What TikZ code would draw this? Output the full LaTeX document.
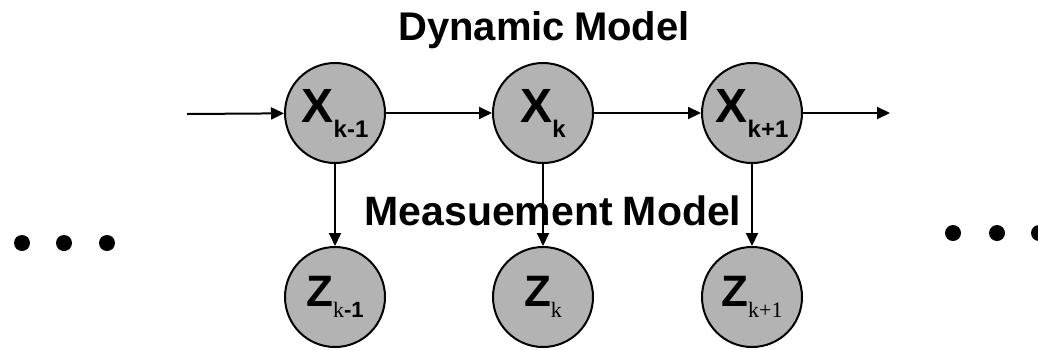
\documentclass[tikz,border=0pt]{standalone}
\usepackage{fontspec}
\setmainfont{Liberation Sans}
\newfontfamily\serifk{Liberation Serif}
\usetikzlibrary{arrows.meta}
\definecolor{gfill}{HTML}{B3B3B3}
\newcommand\Xlab[1]{{\fontsize{48}{48}\selectfont\bfseries X}\raisebox{-15pt}{\fontsize{24}{24}\selectfont\bfseries #1}}
\newcommand\Zlab[1]{{\fontsize{44}{44}\selectfont\bfseries Z}\raisebox{-11pt}{\fontsize{22}{22}\selectfont #1}}
\begin{document}
\begin{tikzpicture}[x=1pt,y=-1pt,
  state/.style={circle,draw,line width=2pt,fill=gfill,minimum size=100pt,inner sep=0pt},
  conn/.style={line width=2pt,-{Triangle[length=13pt,width=12pt]}},
  dotnode/.style={circle,fill=black,minimum size=16pt,inner sep=0pt},
  title/.style={anchor=base,font=\fontsize{40}{40}\selectfont\bfseries}]
\useasboundingbox (0,0) rectangle (1038,349);
% top row
\node[state] (x1) at (335,113) {\Xlab{k-1}};
\node[state] (x2) at (543,113) {\Xlab{k}};
\node[state] (x3) at (752,113) {\Xlab{k+1}};
% bottom row
\node[state] (z1) at (335,297) {\Zlab{{\serifk k}\bfseries -1}};
\node[state] (z2) at (543,297) {\Zlab{\serifk k}};
\node[state] (z3) at (752,297) {\Zlab{\serifk k+1}};
% texts
\node[title] (dyn) at (544,40) {Dynamic\hspace{9pt}Model};
\node[title,font=\fontsize{41}{41}\selectfont\bfseries] (meas) at (553,225) {Measuement\hspace{10pt}Model};
% free ends
\coordinate (in) at (187,114);
\coordinate (out) at (890,113);
% connectors
\draw[conn] (in) -- (x1);
\draw[conn] (x1) -- (x2);
\draw[conn] (x2) -- (x3);
\draw[conn] (x3) -- (out);
\draw[conn] (x1) -- (z1);
\draw[conn] (x2) -- (z2);
\draw[conn] (x3) -- (z3);
% dots
\node[dotnode] (l1) at (22,243) {};
\node[dotnode] (l2) at (64,243) {};
\node[dotnode] (l3) at (107,243) {};
\node[dotnode] (r1) at (953,233) {};
\node[dotnode] (r2) at (997,233) {};
\node[dotnode] (r3) at (1039,233) {};
\end{tikzpicture}
\end{document}
